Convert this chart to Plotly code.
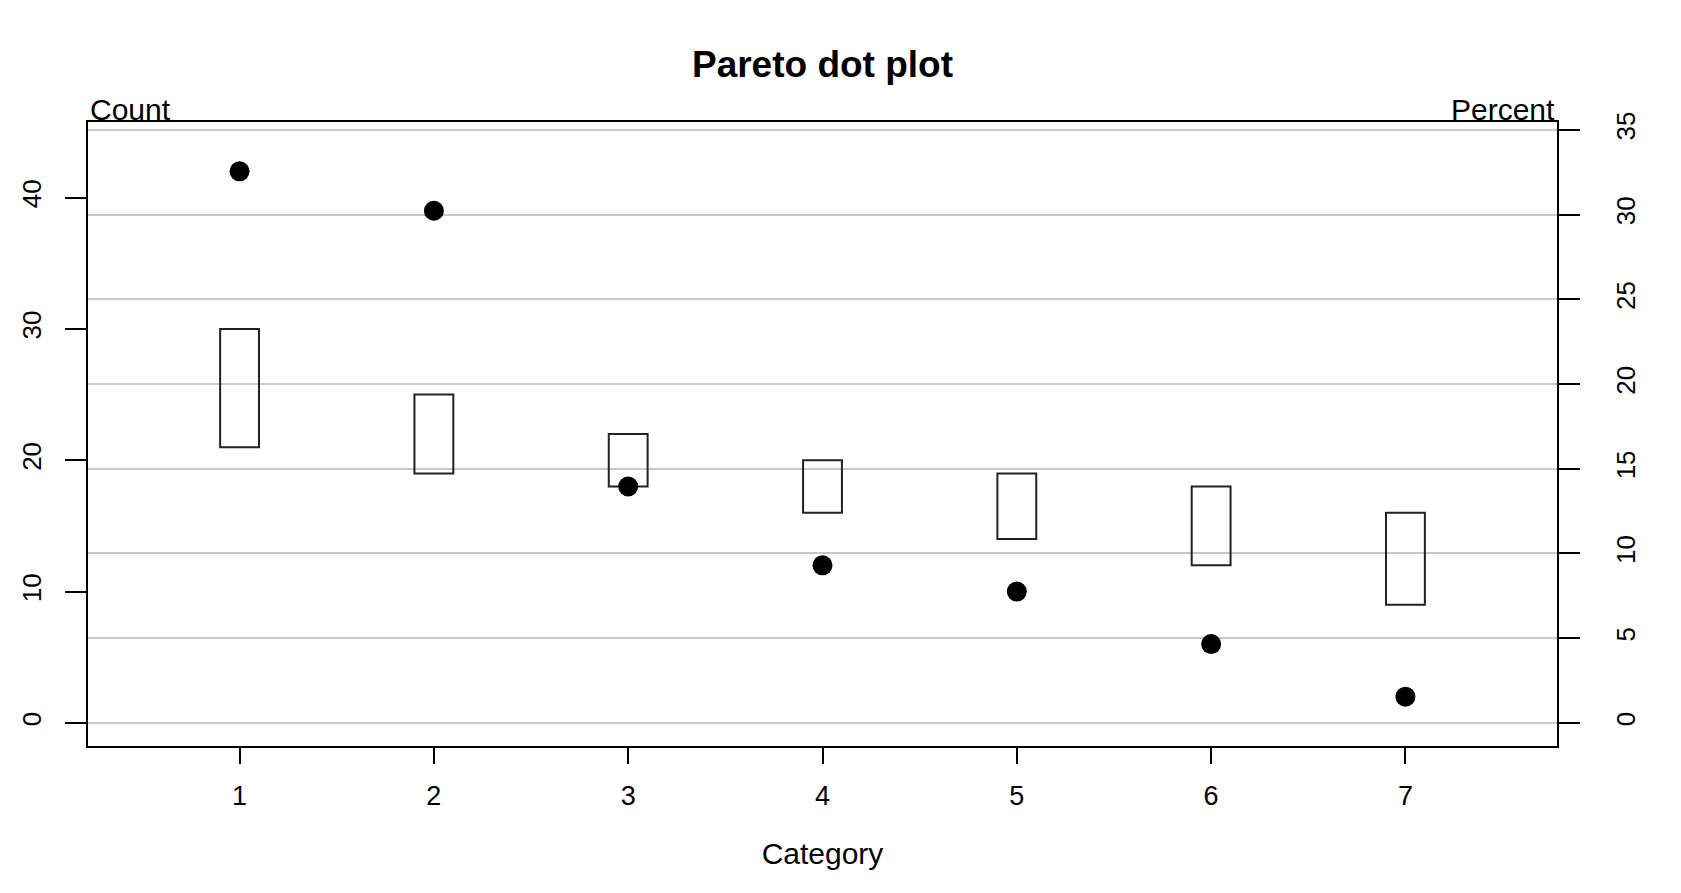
import plotly.graph_objects as go

# ---- data ----
categories = [1, 2, 3, 4, 5, 6, 7]
counts = [42, 39, 18, 12, 10, 6, 2]
interval_low = [21, 19, 18, 16, 14, 12, 9]
interval_high = [30, 25, 22, 20, 19, 18, 16]
count_ticks = [0, 10, 20, 30, 40]
percent_ticks = [0, 5, 10, 15, 20, 25, 30, 35]

total = sum(counts)
count_range = [-1.76, 45.76]
percent_range = [v * 100.0 / total for v in count_range]
percents = [c * 100.0 / total for c in counts]

FONT = "Liberation Sans, Arial, sans-serif"

fig = go.Figure()

# interval boxes
fig.add_trace(go.Bar(
    x=categories,
    y=[h - l for h, l in zip(interval_high, interval_low)],
    base=interval_low,
    width=0.2,
    marker=dict(color="rgba(0,0,0,0)", line=dict(color="#222222", width=2)),
    yaxis="y",
    hoverinfo="skip",
    showlegend=False,
))

# dots
fig.add_trace(go.Scatter(
    x=categories,
    y=counts,
    mode="markers",
    marker=dict(color="black", size=20),
    yaxis="y",
    showlegend=False,
))

# invisible trace on percent axis to anchor it
fig.add_trace(go.Scatter(
    x=categories,
    y=percents,
    mode="markers",
    marker=dict(opacity=0),
    yaxis="y2",
    hoverinfo="skip",
    showlegend=False,
))

ytickfont = dict(family=FONT, size=26, color="black")
xtickfont = dict(family=FONT, size=27, color="black")

fig.update_layout(
    width=1681,
    height=893,
    autosize=False,
    paper_bgcolor="white",
    plot_bgcolor="white",
    margin=dict(l=88, r=124, t=122, b=147),
    barmode="overlay",
    title=dict(
        text="<b>Pareto dot plot</b>",
        font=dict(family=FONT, size=37, color="black"),
        x=(88 + (1681 - 124)) / 2 / 1681,
        xanchor="center",
        y=1 - 64 / 893,
        yanchor="middle",
    ),
    xaxis=dict(
        range=[0.22, 7.78],
        tickvals=categories,
        ticktext=[str(c) for c in categories],
        ticks="outside",
        ticklen=16,
        tickwidth=1.5,
        tickcolor="black",
        ticklabelstandoff=9,
        tickfont=xtickfont,
        showline=True,
        mirror=True,
        linecolor="black",
        linewidth=2,
        showgrid=False,
        zeroline=False,
        title=dict(text="Category", font=dict(family=FONT, size=30, color="black"), standoff=33),
    ),
    yaxis=dict(
        range=count_range,
        tickvals=count_ticks,
        ticks="outside",
        ticklen=21,
        tickwidth=1.5,
        tickcolor="black",
        tickangle=-90,
        ticklabelstandoff=14,
        tickfont=ytickfont,
        showline=True,
        linecolor="black",
        linewidth=2,
        showgrid=False,
        zeroline=False,
    ),
    yaxis2=dict(
        range=percent_range,
        tickvals=percent_ticks,
        overlaying="y",
        side="right",
        ticks="outside",
        ticklen=21,
        tickwidth=1.5,
        tickcolor="black",
        tickangle=-90,
        ticklabelstandoff=24,
        tickfont=ytickfont,
        showline=True,
        linecolor="black",
        linewidth=2,
        showgrid=True,
        gridcolor="#c8c8c8",
        gridwidth=1.5,
        zeroline=False,
    ),
    annotations=[
        dict(text="Count", x=0, y=1, xref="paper", yref="paper", xanchor="left", yanchor="bottom",
             yshift=-6, showarrow=False, font=dict(family=FONT, size=30, color="black")),
        dict(text="Percent", x=1, y=1, xref="paper", yref="paper", xanchor="right", yanchor="bottom",
             yshift=-6, showarrow=False, font=dict(family=FONT, size=30, color="black")),
    ],
)

fig.write_html("out.html")
